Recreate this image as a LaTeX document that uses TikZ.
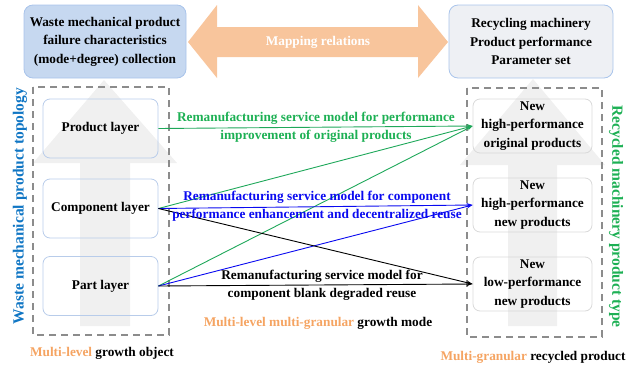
\documentclass[tikz,border=0pt]{standalone}
\usepackage{fontspec}
\setmainfont{Liberation Serif}
\usetikzlibrary{arrows.meta}
\definecolor{topblue}{HTML}{C6D8F0}
\definecolor{topblueb}{HTML}{A9C4EB}
\definecolor{topgray}{HTML}{EEF0F4}
\definecolor{orangeA}{HTML}{F8C59C}
\definecolor{orangeT}{HTML}{F5A462}
\definecolor{bigarrow}{HTML}{F0F0F0}
\definecolor{dashgray}{HTML}{8C8C8C}
\definecolor{layerb}{HTML}{B8CCEA}
\definecolor{prodb}{HTML}{D9D9D9}
\definecolor{gline}{HTML}{1FA85A}
\definecolor{gtext}{HTML}{1DB054}
\definecolor{bline}{HTML}{0A0AF0}
\definecolor{vblue}{HTML}{1076C4}
\tikzset{
  topbox/.style={draw=topblueb, rounded corners=9pt, line width=0.8pt, minimum width=162pt, minimum height=73pt, align=center, inner sep=0pt},
  layerbox/.style={draw=layerb, rounded corners=7pt, line width=0.8pt, minimum width=115pt, minimum height=59pt, align=center, inner sep=0pt},
  prodbox/.style={draw=prodb, rounded corners=7pt, line width=0.8pt, minimum width=119pt, minimum height=54pt, align=center, inner sep=0pt},
  dashbox/.style={draw=dashgray, line width=1.1pt, dash pattern=on 7pt off 5pt},
  conn/.style={line width=0.9pt, -{Stealth[length=6pt,width=4pt]}},
  lbl/.style={align=center, inner sep=0pt},
}
\begin{document}
\begin{tikzpicture}[x=1pt,y=-1pt, font=\bfseries\fontsize{13.3}{18.5}\selectfont]
\useasboundingbox (0,0) rectangle (639,367);
% big light arrows
\fill[bigarrow] (104,80) -- (177,163) -- (130,163) -- (130,326) -- (80,326) -- (80,163) -- (33,163) -- cycle;
\fill[bigarrow] (533,79) -- (605,165) -- (557,165) -- (557,326) -- (508,326) -- (508,165) -- (460,165) -- cycle;
% dashed frames
\draw[dashbox] (33,87) rectangle (169,335);
\draw[dashbox] (467,88) rectangle (602,337);
% top boxes
\node[topbox, fill=topblue] (tl) at (105,41.5) {Waste mechanical product\\failure characteristics\\(mode+degree) collection};
\node[topbox, fill=topgray, minimum width=164pt] (tr) at (531,41.5) {Recycling machinery\\Product performance\\Parameter set};
% mapping double arrow
\fill[orangeA] (188,42) -- (217,5) -- (217,27) -- (418,27) -- (418,5) -- (448,42) -- (418,78) -- (418,57) -- (217,57) -- (217,78) -- cycle;
\node[lbl, text=white] (map) at (318,42) {Mapping relations};
% left layers
\node[layerbox] (prod) at (100.5,128.5) {Product layer};
\node[layerbox] (comp) at (100.5,208.5) {Component layer};
\node[layerbox] (part) at (100.5,286) {Part layer};
% right products
\node[prodbox] (r1) at (532.5,126) {New\\high-performance\\original products};
\node[prodbox] (r2) at (532.5,205) {New\\high-performance\\new products};
\node[prodbox] (r3) at (532.5,284) {New\\low-performance\\new products};
% connectors
\draw[conn, gline] (prod.east) -- (r1.west);
\draw[conn, gline] (comp.east) -- (r1.west);
\draw[conn, gline] (part.east) -- (r1.west);
\draw[conn, bline] (comp.east) -- (r2.west);
\draw[conn, bline] (part.east) -- (r2.west);
\draw[conn, black] (comp.east) -- (r3.west);
\draw[conn, black] (part.east) -- (r3.west);
% labels
\node[lbl, text=gtext] (lg) at (316,127.5) {Remanufacturing service model for performance\\improvement of original products};
\node[lbl, text=bline] (lb) at (317,206) {Remanufacturing service model for component\\performance enhancement and decentralized reuse};
\node[lbl, text=black] (lk) at (322,285.5) {Remanufacturing service model for\\component blank degraded reuse};
\node[lbl] (mode) at (318,323) {{\color{orangeT}Multi-level multi-granular} growth mode};
\node[lbl] (obj) at (102,353) {{\color{orangeT}Multi-level} growth object};
\node[lbl] (rec) at (533,357) {{\color{orangeT}Multi-granular} recycled product};
% vertical titles
\node[lbl, text=vblue, rotate=90, font=\bfseries\fontsize{15.5}{18}\selectfont] (vl) at (20,206) {Waste mechanical product topology};
\node[lbl, text=gtext, rotate=-90, font=\bfseries\fontsize{15.5}{18}\selectfont] (vr) at (616,216.5) {Recycled machinery product type};
\end{tikzpicture}
\end{document}
